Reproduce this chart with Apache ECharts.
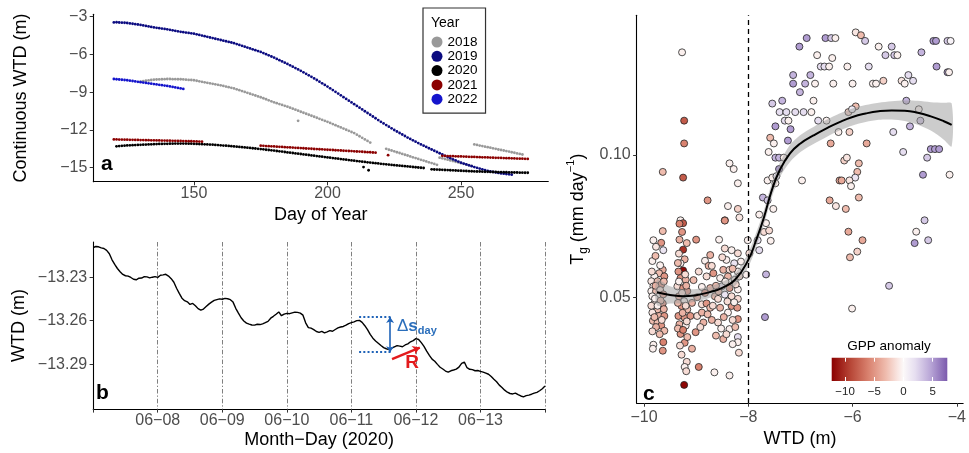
<!DOCTYPE html>
<html>
<head>
<meta charset="utf-8">
<script src="https://cdn.jsdelivr.net/npm/echarts@6/dist/echarts.min.js"></script>
<style>
html, body { margin: 0; padding: 0; background: #fff; }
#main { width: 969px; height: 453px; }
</style>
</head>
<body>
<div id="main"></div>
<script>
// ---- panel a: continuous WTD (m) per day of year, split in segments ----
const yearNames = ['2018', '2019', '2020', '2021', '2022'];
const start2018 = [130, 222, 242, 255];
const wtd2018 = [
  [-8.15,-8.12,-8.09,-8.06,-8.03,-8.00,-7.99,-7.98,-7.97,-7.96,
   -7.95,-7.95,-7.96,-7.96,-7.97,-7.97,-7.98,-8.00,-8.02,-8.03,
   -8.05,-8.09,-8.13,-8.17,-8.21,-8.25,-8.29,-8.33,-8.37,-8.41,
   -8.45,-8.50,-8.55,-8.60,-8.65,-8.70,-8.77,-8.84,-8.91,-8.98,
   -9.05,-9.12,-9.19,-9.26,-9.33,-9.40,-9.48,-9.56,-9.64,-9.72,
   -9.80,-9.87,-9.94,-10.01,-10.08,-10.15,-10.23,-10.31,-10.39,-10.47,
   -10.55,-10.63,-10.71,-10.79,-10.87,-10.95,-11.03,-11.11,-11.19,-11.27,
   -11.35,-11.44,-11.53,-11.62,-11.71,-11.80,-11.89,-11.98,-12.07,-12.16,
   -12.25,-12.37,-12.50,-12.62,-12.75,-12.87,-13.00],
  [-13.50,-13.57,-13.63,-13.70,-13.77,-13.83,-13.90,-13.97,-14.03,-14.10,
   -14.17,-14.23,-14.30,-14.37,-14.43,-14.50,-14.57,-14.63,-14.70,-14.77],
  [-14.20,-14.25,-14.31,-14.36,-14.42,-14.47,-14.53,-14.58,-14.64,-14.69,-14.75,-14.80,-14.85],
  [-13.15,-13.19,-13.24,-13.28,-13.33,-13.37,-13.41,-13.46,-13.50,-13.55,
   -13.59,-13.63,-13.68,-13.72,-13.77,-13.81,-13.86,-13.90,-13.95]
];
const extra2018 = [[189, -11.27]];

const start2019 = [120];
const wtd2019 = [
  [-3.45,-3.44,-3.46,-3.47,-3.48,-3.50,-3.53,-3.56,-3.59,-3.62,
   -3.65,-3.69,-3.73,-3.77,-3.81,-3.85,-3.88,-3.91,-3.94,-3.97,
   -4.00,-4.04,-4.08,-4.12,-4.16,-4.20,-4.23,-4.26,-4.29,-4.32,
   -4.35,-4.40,-4.45,-4.50,-4.55,-4.60,-4.65,-4.70,-4.75,-4.80,
   -4.85,-4.90,-4.95,-5.00,-5.05,-5.10,-5.17,-5.24,-5.31,-5.38,
   -5.45,-5.52,-5.59,-5.66,-5.73,-5.80,-5.89,-5.98,-6.07,-6.16,
   -6.25,-6.35,-6.45,-6.55,-6.65,-6.75,-6.86,-6.97,-7.08,-7.19,
   -7.30,-7.42,-7.54,-7.66,-7.78,-7.90,-8.03,-8.16,-8.29,-8.42,
   -8.55,-8.69,-8.83,-8.97,-9.11,-9.25,-9.39,-9.53,-9.67,-9.81,
   -9.95,-10.09,-10.23,-10.37,-10.51,-10.65,-10.79,-10.93,-11.07,-11.21,
   -11.35,-11.48,-11.61,-11.74,-11.87,-12.00,-12.12,-12.24,-12.36,-12.48,
   -12.60,-12.71,-12.82,-12.93,-13.04,-13.15,-13.25,-13.35,-13.45,-13.55,
   -13.65,-13.75,-13.85,-13.95,-14.05,-14.15,-14.24,-14.33,-14.42,-14.51,
   -14.60,-14.67,-14.74,-14.81,-14.88,-14.95,-15.01,-15.07,-15.13,-15.19,
   -15.25,-15.29,-15.33,-15.37,-15.41,-15.45,-15.47,-15.50,-15.52,-15.55]
];

const start2020 = [121, 239];
const wtd2020 = [
  [-13.30,-13.28,-13.26,-13.25,-13.23,-13.22,-13.21,-13.20,-13.19,-13.18,
   -13.17,-13.16,-13.15,-13.14,-13.13,-13.12,-13.11,-13.11,-13.10,-13.10,
   -13.09,-13.09,-13.08,-13.08,-13.08,-13.08,-13.08,-13.09,-13.09,-13.10,
   -13.11,-13.12,-13.13,-13.14,-13.15,-13.16,-13.17,-13.19,-13.20,-13.22,
   -13.24,-13.25,-13.27,-13.29,-13.31,-13.33,-13.35,-13.37,-13.39,-13.41,
   -13.43,-13.45,-13.47,-13.50,-13.52,-13.54,-13.57,-13.59,-13.62,-13.64,
   -13.67,-13.70,-13.72,-13.75,-13.78,-13.80,-13.83,-13.86,-13.88,-13.91,
   -13.94,-13.96,-13.99,-14.02,-14.04,-14.07,-14.10,-14.12,-14.15,-14.18,
   -14.20,-14.23,-14.26,-14.28,-14.31,-14.34,-14.36,-14.39,-14.42,-14.44,
   -14.47,-14.49,-14.52,-14.54,-14.57,-14.59,-14.62,-14.64,-14.66,-14.69,
   -14.71,-14.73,-14.75,-14.78,-14.80,-14.82,-14.84,-14.86,-14.88,-14.90,
   -14.92,-14.94,-14.96,-14.98,-15.00,-15.02],
  [-15.13,-15.14,-15.15,-15.16,-15.17,-15.18,-15.19,-15.20,-15.21,-15.22,
   -15.23,-15.24,-15.25,-15.26,-15.27,-15.28,-15.29,-15.30,-15.30,-15.31,
   -15.32,-15.32,-15.33,-15.34,-15.34,-15.35,-15.35,-15.36,-15.36,-15.37,
   -15.37,-15.38,-15.38,-15.39,-15.39,-15.40,-15.40]
];
const extra2020 = [[213.5, -14.95], [215.4, -15.2]];

const start2021 = [120, 175, 243];
const wtd2021 = [
  [-12.75,-12.75,-12.76,-12.76,-12.77,-12.77,-12.78,-12.78,-12.79,-12.79,
   -12.80,-12.80,-12.81,-12.81,-12.82,-12.82,-12.83,-12.83,-12.84,-12.84,
   -12.85,-12.85,-12.86,-12.86,-12.87,-12.87,-12.88,-12.88,-12.89,-12.89,
   -12.90,-12.91,-12.92,-12.93],
  [-13.25,-13.26,-13.28,-13.29,-13.30,-13.31,-13.33,-13.34,-13.35,-13.37,
   -13.38,-13.39,-13.40,-13.42,-13.43,-13.44,-13.45,-13.47,-13.48,-13.49,
   -13.51,-13.52,-13.53,-13.54,-13.56,-13.57,-13.58,-13.59,-13.61,-13.62,
   -13.63,-13.65,-13.66,-13.67,-13.68,-13.70,-13.71,-13.72,-13.73,-13.75,
   -13.76,-13.77,-13.79,-13.80],
  [-14.05,-14.06,-14.07,-14.07,-14.08,-14.09,-14.10,-14.10,-14.11,-14.12,
   -14.13,-14.14,-14.14,-14.15,-14.16,-14.17,-14.17,-14.18,-14.19,-14.20,
   -14.21,-14.21,-14.22,-14.23,-14.24,-14.24,-14.25,-14.26,-14.27,-14.28,
   -14.28,-14.29,-14.30]
];
const extra2021 = [[222.7, -14.0]];

const start2022 = [120];
const wtd2022 = [
  [-7.95,-7.97,-7.99,-8.01,-8.03,-8.05,-8.08,-8.11,-8.14,-8.17,
   -8.20,-8.23,-8.26,-8.29,-8.32,-8.35,-8.38,-8.41,-8.44,-8.47,
   -8.50,-8.54,-8.58,-8.62,-8.66,-8.70,-8.74]
];

const aXTicks = [150, 200, 250];
const aYTicks = [-3, -6, -9, -12, -15];

// ---- panel b: hourly WTD (m) from 06-07 00:00 (x in days) ----
const bWTD = [
  -13.2095,-13.2088,-13.2090,-13.2098,-13.2102,-13.2115,-13.2138,-13.2180,-13.2212,-13.2240,
  -13.2262,-13.2281,-13.2290,-13.2293,-13.2302,-13.2314,-13.2318,-13.2307,-13.2306,-13.2296,
  -13.2298,-13.2305,-13.2300,-13.2296,-13.2301,-13.2287,-13.2284,-13.2280,-13.2292,-13.2310,
  -13.2335,-13.2376,-13.2412,-13.2445,-13.2462,-13.2470,-13.2488,-13.2481,-13.2497,-13.2517,
  -13.2528,-13.2520,-13.2503,-13.2486,-13.2472,-13.2460,-13.2455,-13.2450,-13.2452,-13.2446,
  -13.2449,-13.2455,-13.2472,-13.2515,-13.2548,-13.2580,-13.2602,-13.2617,-13.2624,-13.2630,
  -13.2631,-13.2625,-13.2627,-13.2622,-13.2614,-13.2605,-13.2583,-13.2570,-13.2556,-13.2540,
  -13.2566,-13.2555,-13.2550,-13.2552,-13.2546,-13.2541,-13.2543,-13.2548,-13.2562,-13.2615,
  -13.2648,-13.2652,-13.2662,-13.2675,-13.2681,-13.2674,-13.2684,-13.2677,-13.2669,-13.2673,
  -13.2661,-13.2650,-13.2644,-13.2640,-13.2631,-13.2620,-13.2614,-13.2608,-13.2600,-13.2598,
  -13.2612,-13.2635,-13.2662,-13.2695,-13.2721,-13.2740,-13.2756,-13.2772,-13.2786,-13.2794,
  -13.2800,-13.2790,-13.2781,-13.2772,-13.2776,-13.2780,-13.2768,-13.2760,-13.2746,-13.2738,
  -13.2724,-13.2730,-13.2752,-13.2778,-13.2811,-13.2840,-13.2866,-13.2880,-13.2902,-13.2922,
  -13.2934,-13.2948,-13.2956,-13.2946,-13.2941,-13.2935,-13.2921,-13.2895,-13.2886,-13.2925,
  -13.2936,-13.2938,-13.2946,-13.2944,-13.2950,-13.2955,-13.2962,-13.2970,-13.2986,-13.3005,
  -13.3022,-13.3045,-13.3061,-13.3080,-13.3094,-13.3103,-13.3106,-13.3100,-13.3111,-13.3120,
  -13.3126,-13.3118,-13.3114,-13.3108,-13.3100,-13.3095,-13.3084,-13.3070,-13.3052
];
const bDayLabels = ['06\u221208', '06\u221209', '06\u221210', '06\u221211', '06\u221212', '06\u221213'];
const bYTicks = [-13.23, -13.26, -13.29];
// annotation: daily drop (dotted levels + double arrow) and recovery R
const dsX = [4.12, 4.63];
const dsY = [-13.2575, -13.2818];
const dsArrowX = 4.6;
const rArrow = [[4.63, -13.2866], [5.06, -13.2786]];
const dsLabelAt = [5.015, -13.2641];
const rLabelAt = [4.94, -13.2894];

// ---- panel c: Tg vs WTD, coloured by GPP anomaly ----
const cX = [
  -9.27,-9.23,-9.23,-9.64,-9.25,-8.36,-8.28,-8.20,-8.78,-8.39,
  -8.20,-8.17,-8.45,-9.30,-9.25,-6.88,-6.52,-6.41,-6.33,-7.02,
  -5.94,-5.84,-5.76,-5.50,-5.25,-5.37,-5.20,-5.14,-4.68,-4.45,
  -4.40,-4.18,-4.12,-4.39,-4.18,-4.15,-6.68,-6.39,-6.61,-6.54,
  -6.45,-6.10,-5.69,-7.14,-6.81,-7.14,-6.91,-6.72,-6.37,-6.00,
  -5.61,-5.55,-5.41,-5.06,-5.00,-4.84,-4.93,-7.01,-7.35,-6.75,
  -7.40,-7.27,-7.10,-6.94,-6.79,-7.54,-7.30,-7.23,-6.66,-6.50,
  -7.48,-7.19,-6.27,-6.06,-6.08,-5.94,-6.01,-7.58,-7.51,-7.24,
  -6.42,-5.73,-5.22,-4.90,-4.97,-4.73,-4.70,-5.03,-4.57,-4.50,
  -4.42,-4.34,-4.65,-4.14,-7.61,-7.48,-7.41,-7.32,-7.41,-7.63,
  -7.54,-7.46,-7.48,-6.97,-6.16,-6.11,-5.88,-5.91,-5.95,-6.25,
  -6.21,-6.06,-6.03,-6.44,-6.32,-6.13,-5.88,-7.72,-7.63,-7.52,
  -7.79,-7.66,-4.62,-6.08,-5.81,-6.05,-5.91,-4.78,-4.81,-4.55,
  -5.30,-6.01,-7.66,-7.68,-9.82,-9.64,-9.67,-9.77,-9.63,-9.84,
  -9.64,-9.71,-9.80,-9.61,-9.86,-9.74,-9.82,-9.67,-9.86,-9.77,
  -9.71,-9.84,-9.80,-9.64,-9.74,-9.84,-9.71,-9.61,-9.83,-9.74,
  -9.67,-9.61,-9.82,-9.83,-9.63,-9.32,-9.27,-9.32,-9.25,-9.33,
  -9.22,-9.30,-9.25,-9.34,-9.30,-9.20,-9.36,-9.25,-9.17,-9.33,
  -9.23,-9.28,-9.17,-9.34,-9.22,-9.32,-9.20,-9.30,-9.22,-9.28,
  -9.18,-9.22,-9.19,-9.23,-9.08,-9.11,-9.01,-8.98,-9.00,-8.95,
  -9.08,-8.83,-8.73,-8.76,-8.80,-8.67,-8.89,-8.73,-8.83,-8.89,
  -8.80,-8.64,-8.89,-8.73,-8.86,-8.65,-8.56,-8.45,-8.45,-8.32,
  -8.20,-8.42,-8.27,-8.14,-8.48,-8.36,-8.20,-8.54,-8.39,-8.26,
  -8.17,-8.51,-8.36,-8.20,-8.45,-8.32,-8.58,-8.20,-8.54,-8.32,
  -8.21,-8.39,-8.20,-8.58,-8.36,-8.20,-8.20,-8.48,-8.36,-8.01,
  -7.98,-8.04,-7.82,-7.70,-7.60,-7.79,-7.57,
  -9.78,-9.69,-9.85,-9.62,-9.78,-9.69,-9.63,-9.79,-9.68,-9.86,
  -9.74,-9.62,-9.80,-9.66,-9.77,-9.84,-9.70,-9.64,
  -9.18,-9.35,-9.21,-9.33,-9.19,-9.27,-9.35,-9.20,-9.26,-9.18,
  -9.35,-9.25,-9.17,-9.31,
  -9.05,-8.95,-8.98,-8.70,-8.62,-8.68,-8.78,-8.92,-8.70,-8.62,
  -8.50,-8.30,-8.44,-8.24,-8.57,-8.40,-8.27,-8.47,-8.30,-8.52,
  -8.25,-8.42,-8.30,-8.18
];
const cY = [
  0.136,0.112,0.104,0.094,0.092,0.097,0.095,0.090,0.084,0.082,
  0.081,0.078,0.077,0.077,0.076,0.141,0.141,0.141,0.141,0.138,
  0.143,0.142,0.140,0.138,0.138,0.135,0.135,0.135,0.136,0.140,
  0.140,0.140,0.140,0.131,0.129,0.129,0.135,0.134,0.131,0.131,
  0.131,0.131,0.131,0.128,0.128,0.125,0.125,0.125,0.125,0.125,
  0.125,0.125,0.126,0.126,0.125,0.126,0.128,0.122,0.119,0.119,
  0.115,0.115,0.115,0.115,0.115,0.118,0.112,0.112,0.112,0.112,
  0.110,0.109,0.108,0.108,0.115,0.117,0.116,0.106,0.104,0.105,
  0.104,0.104,0.108,0.110,0.119,0.116,0.112,0.101,0.099,0.102,
  0.102,0.102,0.093,0.093,0.101,0.099,0.099,0.099,0.095,0.091,
  0.092,0.0925,0.090,0.091,0.098,0.099,0.097,0.094,0.092,0.091,
  0.091,0.091,0.089,0.084,0.082,0.081,0.085,0.085,0.084,0.081,
  0.079,0.076,0.077,0.073,0.070,0.064,0.066,0.073,0.069,0.070,
  0.054,0.046,0.058,0.043,0.0700,0.0732,0.0691,0.0677,0.0665,0.0627,
  0.0596,0.0584,0.0573,0.0573,0.0556,0.0556,0.0538,0.0544,0.0521,0.0521,
  0.0503,0.0503,0.0478,0.0478,0.0457,0.0446,0.0434,0.0434,0.0417,0.0411,
  0.0400,0.0382,0.0333,0.0319,0.0342,0.0758,0.0729,0.0702,0.0667,0.0653,
  0.0633,0.0619,0.0594,0.0590,0.0567,0.0561,0.0538,0.0532,0.0521,0.0503,
  0.0486,0.0469,0.0457,0.0434,0.0428,0.0405,0.0400,0.0371,0.0340,0.0298,
  0.0273,0.0255,0.0240,0.0192,0.0319,0.0434,0.0377,0.0434,0.0702,0.0255,
  0.0480,0.0628,0.0648,0.0610,0.0573,0.0584,0.0536,0.0532,0.0515,0.0475,
  0.0478,0.0503,0.0446,0.0463,0.0411,0.0236,0.0702,0.0769,0.0671,0.0665,
  0.0654,0.0631,0.0619,0.0625,0.0596,0.0596,0.0590,0.0567,0.0573,0.0561,
  0.0573,0.0538,0.0532,0.0527,0.0509,0.0503,0.0494,0.0494,0.0463,0.0469,
  0.0463,0.0446,0.0423,0.0411,0.0388,0.0360,0.0342,0.0353,0.0225,0.0700,
  0.0654,0.0579,0.0700,0.0729,0.0734,0.0665,0.0698,
  0.0645,0.0612,0.0590,0.0555,0.0540,0.0525,0.0510,0.0495,0.0488,0.0470,
  0.0470,0.0458,0.0430,0.0420,0.0395,0.0380,0.0370,0.0312,
  0.0690,0.0620,0.0580,0.0555,0.0540,0.0515,0.0480,0.0470,0.0445,0.0415,
  0.0390,0.0385,0.0360,0.0330,
  0.0560,0.0590,0.0500,0.0610,0.0540,0.0470,0.0440,0.0395,0.0420,0.0365,
  0.0640,0.0600,0.0555,0.0545,0.0520,0.0485,0.0482,0.0430,0.0420,0.0390,
  0.0395,0.0370,0.0335,0.0305
];
const cGPP = [
  -0.5,-8,-6,-3,-8,-0.5,-0.5,-0.5,-5,-0.5,
  -2,-1,-5,-0.5,-8,5,5,3,-0.5,5,
  -1,-3,3,-0.5,3,3,3,-0.5,4,5,
  5,3,0.5,5,5,-0.5,-0.5,-0.5,2,2,
  -0.5,-0.5,2,4,4,5,4,-0.5,-0.5,-0.5,
  -0.5,-0.5,-2,-1,-0.5,2,2,4,4,-0.5,
  2,2,2,2,-0.5,3,2,-0.5,2,-0.5,
  5,5,-0.5,-2,-2,-3,1,-3,-0.5,5,
  -4,-4,2,4,4,-0.5,3,2,3,5,
  5,5,5,-0.5,-0.5,4,4,-0.5,5,-0.5,
  -0.5,1.5,-0.5,-0.5,-2,-1,-3,-3,1.5,-4,
  -4,-1,-0.5,-4,-1,-3,-3,4,3,-0.5,
  -0.5,-0.5,3,-4,-4,-3,-2,-0.5,5,3,
  3,-0.5,4,5,-0.5,-3,-5,-1,1.5,-0.5,
  -4,-3,-0.5,-5,-1,-3,-0.5,-5,-0.5,-3,
  -0.5,-0.5,-1,-5,-3,-1,-3.5,-5,-3,-3,
  -5,-3,-0.5,-0.5,-6,-6,-5,-3.5,-10,-1.5,
  -3.5,-0.5,-12,-5,-5,-3.5,-1.5,-5,-5,-3.5,
  -0.5,-5,-3,-5,-5,-3.5,-0.5,-5,-5,-1.5,
  -1.5,-0.5,-1.5,-12,-3.5,-5,-5,-1.5,-5,-6,
  -3.5,-0.5,-3.5,-3.5,-1.5,-5,-0.5,-3,-5,-1.5,
  -5,-3,-3.5,-3,-3.5,-0.5,-0.5,-5,-1.5,-0.5,
  -1.5,-0.5,1.5,-0.5,-3.5,-1.5,-0.5,-0.5,-3.5,-0.5,
  -1.5,1.5,-5,-0.5,1.5,-1.5,-1.5,-1.5,-3.5,-5,
  -5,-0.5,-5,-1.5,-0.5,2,-0.5,-3.5,-0.5,-0.5,
  -1.5,-0.5,1.5,-1.5,-1.5,2,-0.5,
  -3,-0.5,-1.5,-3,-3.5,-1.5,-4,-0.5,-3,-1.5,
  -0.5,-3.5,-3,-1.5,-3.5,-1.5,-3,-5,
  -3,-3,-1.5,-0.5,-3.5,-1.5,-3,-1.5,-3.5,-1.5,
  -3,-6,-3,-1.5,
  -3,-1.5,-3.5,-1.5,-3,-1.5,-3,-1.5,-3.5,-3,
  -1.5,-3,-0.5,-1.5,-3,-1.5,-0.5,-3.5,-1.5,-0.5,
  -3,-1.5,-0.5,-1.5
];
// smooth fit and its confidence band
const smX  = [-9.75,-9.5,-9.25,-9.0,-8.75,-8.5,-8.25,-8.0,-7.85,-7.7,-7.55,-7.4,-7.2,-7.0,-6.75,-6.5,-6.25,-6.0,-5.75,-5.5,-5.25,-5.0,-4.75,-4.5,-4.25,-4.1];
const smY  = [0.0517,0.0508,0.0503,0.0507,0.0517,0.0533,0.0562,0.0631,0.0700,0.0780,0.0875,0.0945,0.1005,0.1040,0.1068,0.1093,0.1115,0.1133,0.1145,0.1153,0.1156,0.1155,0.1148,0.1135,0.1118,0.1105];
const smLo = [0.0472,0.0478,0.0478,0.0485,0.0497,0.0513,0.0540,0.0606,0.0675,0.0755,0.0850,0.0920,0.0975,0.1010,0.1038,0.1063,0.1085,0.1103,0.1115,0.1123,0.1124,0.1119,0.1106,0.1085,0.1053,0.1030];
const smHi = [0.0562,0.0538,0.0528,0.0529,0.0537,0.0553,0.0584,0.0656,0.0725,0.0805,0.0900,0.0970,0.1035,0.1070,0.1098,0.1123,0.1145,0.1163,0.1175,0.1183,0.1188,0.1191,0.1190,0.1185,0.1183,0.1180];
const cXTicks = [-10, -8, -6, -4];
const cYTicks = [0.05, 0.10];
const wtdThreshold = -8;
const gppTicks = [-10, -5, 0, 5];

// colour scale for GPP anomaly
const gppMin = -12.3, gppMax = 7.5;
const gppStops  = [-12.3, -9, -6, -3, -1, 0, 2, 4.5, 7.5];
const gppColors = ['#8b0000', '#b84838', '#d9826f', '#efbcae', '#f9e6e2', '#fcf9f9', '#e6def0', '#bba9d8', '#7b5aad'];

const FONT = 'Liberation Sans, Arial, Helvetica, sans-serif';
const yearColors = ['#999999', '#0b0b80', '#000000', '#8b0000', '#1414cc'];

function hexRgb(h) {
  return [parseInt(h.slice(1, 3), 16), parseInt(h.slice(3, 5), 16), parseInt(h.slice(5, 7), 16)];
}
function gppColor(v) {
  if (v <= gppStops[0]) return gppColors[0];
  for (let i = 1; i < gppStops.length; i++) {
    if (v <= gppStops[i]) {
      const t = (v - gppStops[i - 1]) / (gppStops[i] - gppStops[i - 1]);
      const a = hexRgb(gppColors[i - 1]), b = hexRgb(gppColors[i]);
      return 'rgb(' + a.map((c, k) => Math.round(c + (b[k] - c) * t)).join(',') + ')';
    }
  }
  return gppColors[gppColors.length - 1];
}
function minus(s) { return String(s).replace('-', '\u2212'); }

function segPoints(starts, segs, extra) {
  let out = [];
  segs.forEach((vals, s) => {
    vals.forEach((v, i) => out.push([starts[s] + i, v]));
  });
  return out.concat(extra || []);
}

function axis(o) {
  return {
    type: 'value', gridIndex: o.grid, min: o.min, max: o.max, interval: o.interval,
    position: o.position, show: o.show !== false, z: o.z,
    name: o.name, nameLocation: 'middle', nameGap: o.nameGap, nameRotate: o.rotate,
    nameTextStyle: Object.assign({ color: '#000', fontSize: 18, fontFamily: FONT }, o.nameStyle || {}),
    axisLine: { show: o.line !== false, onZero: false, lineStyle: { color: '#000', width: 1.1 } },
    axisTick: Object.assign({ show: true, length: 3.6, customValues: o.ticks, lineStyle: { color: '#333', width: 1 } }, o.tick || {}),
    axisLabel: Object.assign({ show: true, customValues: o.ticks, margin: o.margin, formatter: o.fmt,
      color: '#4d4d4d', fontSize: 16, fontFamily: FONT }, o.label || {}),
    splitLine: o.split || { show: false }
  };
}

const chart = echarts.init(document.getElementById('main'));

const yearSegs = [
  segPoints(start2018, wtd2018, extra2018),
  segPoints(start2019, wtd2019),
  segPoints(start2020, wtd2020, extra2020),
  segPoints(start2021, wtd2021, extra2021),
  segPoints(start2022, wtd2022)
];

const option = {
  animation: false,
  backgroundColor: '#fff',
  textStyle: { fontFamily: FONT },
  title: [
    { text: 'a', left: 101, top: 154, padding: 0, textStyle: { fontSize: 21, fontWeight: 'bold', color: '#000', fontFamily: FONT } },
    { text: 'b', left: 96, top: 383, padding: 0, textStyle: { fontSize: 21, fontWeight: 'bold', color: '#000', fontFamily: FONT } },
    { text: 'c', left: 643, top: 384, padding: 0, textStyle: { fontSize: 21, fontWeight: 'bold', color: '#000', fontFamily: FONT } },
    { text: 'Year', left: 431, top: 16, padding: 0, textStyle: { fontSize: 14, fontWeight: 'normal', color: '#000', fontFamily: FONT } },
    { text: 'GPP anomaly', left: 889, top: 339, textAlign: 'center', padding: 0, textStyle: { fontSize: 13.5, fontWeight: 'normal', color: '#000', fontFamily: FONT } }
  ],
  legend: {
    data: yearNames, orient: 'vertical', left: 423, top: 8,
    padding: [27, 8, 7, 8.5], itemWidth: 11, itemHeight: 11, itemGap: 0.3, icon: 'circle',
    borderColor: '#333', borderWidth: 1.2, backgroundColor: '#fff', selectedMode: false,
    textStyle: { fontSize: 13.5, lineHeight: 12, color: '#000', fontFamily: FONT }
  },
  grid: [
    { left: 93.3, top: 14.2, width: 455, height: 167.5 },
    { left: 93.2, top: 242, width: 451.8, height: 167 },
    { left: 636.7, top: 15.3, width: 332.3, height: 393 },
    { left: 831.7, top: 357.7, width: 115.6, height: 23.3, show: true, borderWidth: 0,
      backgroundColor: { type: 'linear', x: 0, y: 0, x2: 1, y2: 0,
        colorStops: gppStops.map((v, i) => ({ offset: (v - gppMin) / (gppMax - gppMin), color: gppColors[i] })) } }
  ],
  xAxis: [
    axis({ grid: 0, min: 112.3, max: 282.7, ticks: aXTicks, margin: 4, name: 'Day of Year', nameGap: 24,
      fmt: v => String(v) }),
    axis({ grid: 1, min: 0, max: 7, interval: 1, margin: 4, name: 'Month\u2212Day (2020)', nameGap: 22,
      fmt: v => (v >= 1 && v <= 6) ? bDayLabels[v - 1] : '',
      split: { show: true, lineStyle: { color: '#7f7f7f', width: 1, type: [4.5, 2, 1.3, 2] } } }),
    axis({ grid: 2, min: -10.14, max: -3.88, ticks: cXTicks, margin: 6, name: 'WTD (m)', nameGap: 23,
      fmt: v => minus(v) }),
    axis({ grid: 3, min: gppMin, max: gppMax, ticks: gppTicks, margin: 5, line: false, z: 20,
      fmt: v => minus(v), label: { color: '#222', fontSize: 11.5 },
      tick: { inside: true, length: 4, lineStyle: { color: '#fff', width: 1 } } }),
    axis({ grid: 3, min: gppMin, max: gppMax, ticks: gppTicks, position: 'top', line: false, z: 20,
      label: { show: false },
      tick: { inside: true, length: 4, lineStyle: { color: '#fff', width: 1 } } })
  ],
  yAxis: [
    axis({ grid: 0, min: -16.11, max: -2.8, ticks: aYTicks, margin: 6, name: 'Continuous WTD (m)', nameGap: 63, rotate: 90,
      fmt: v => minus(v) }),
    axis({ grid: 1, min: -13.321, max: -13.2057, ticks: bYTicks, margin: 6, name: 'WTD (m)', nameGap: 65, rotate: 90,
      fmt: v => minus(v.toFixed(2)) }),
    axis({ grid: 2, min: 0.0128, max: 0.149, ticks: cYTicks, margin: 6, nameGap: 47, rotate: 90,
      name: '{t|T}{s|g}{t| (mm day}{p|\u22121}{t|)}',
      nameStyle: { rich: {
        t: { fontSize: 18, lineHeight: 24, color: '#000', fontFamily: FONT },
        s: { fontSize: 12, lineHeight: 11, verticalAlign: 'bottom', color: '#000', fontFamily: FONT },
        p: { fontSize: 11, lineHeight: 11, verticalAlign: 'top', color: '#000', fontFamily: FONT }
      } },
      fmt: v => v.toFixed(2) }),
    axis({ grid: 3, min: 0, max: 1, show: false })
  ],
  series: [
    ...yearNames.map((name, k) => ({
      name: name, type: 'scatter', xAxisIndex: 0, yAxisIndex: 0,
      symbol: 'circle', symbolSize: 2.8, itemStyle: { color: yearColors[k], opacity: 1 },
      data: yearSegs[k], silent: true
    })),
    {
      name: 'WTD 2020', type: 'line', xAxisIndex: 1, yAxisIndex: 1,
      showSymbol: false, symbol: 'none', lineStyle: { color: '#000', width: 1.4 },
      data: bWTD.map((v, i) => [i / 24, v]),
      markLine: {
        silent: true, symbol: ['none', 'none'], label: { show: false },
        data: [
          [{ coord: [dsX[0], dsY[0]], lineStyle: { color: '#1f63b8', width: 2, type: [2, 2.2] } }, { coord: [dsX[1], dsY[0]] }],
          [{ coord: [dsX[0], dsY[1]], lineStyle: { color: '#1f63b8', width: 2, type: [2, 2.2] } }, { coord: [dsX[1], dsY[1]] }],
          [{ coord: [dsArrowX, dsY[1]], symbol: 'arrow', symbolSize: 6, lineStyle: { color: '#1f63b8', width: 1.6, type: 'solid' } },
           { coord: [dsArrowX, dsY[0]], symbol: 'arrow', symbolSize: 6 }],
          [{ coord: rArrow[0], symbol: 'none', lineStyle: { color: '#e31a1c', width: 2.4, type: 'solid' } },
           { coord: rArrow[1], symbol: 'arrow', symbolSize: 7 }]
        ]
      },
      markPoint: {
        silent: true, symbol: 'circle', symbolSize: 1, itemStyle: { color: 'rgba(0,0,0,0)' },
        data: [
          { coord: dsLabelAt, label: { show: true, position: 'inside', formatter: '{a|\u0394}{b|s}{c|day}',
            rich: {
              a: { fontSize: 17, lineHeight: 20, color: '#2a6ebb', fontFamily: FONT },
              b: { fontSize: 17, lineHeight: 20, fontWeight: 'bold', color: '#2a6ebb', fontFamily: FONT },
              c: { fontSize: 11, lineHeight: 10, fontWeight: 'bold', verticalAlign: 'bottom', color: '#2a6ebb', fontFamily: FONT }
            } } },
          { coord: rLabelAt, label: { show: true, position: 'inside', formatter: 'R',
            fontSize: 19, fontWeight: 'bold', color: '#e31a1c', fontFamily: FONT } }
        ]
      }
    },
    {
      name: 'Tg', type: 'scatter', xAxisIndex: 2, yAxisIndex: 2, silent: true,
      symbol: 'circle', symbolSize: 7,
      itemStyle: { color: p => gppColor(p.value[2]), borderColor: '#222', borderWidth: 0.8, opacity: 1 },
      data: cX.map((x, i) => [x, cY[i], cGPP[i]]),
      markLine: {
        silent: true, symbol: ['none', 'none'], label: { show: false },
        lineStyle: { color: '#000', width: 1.3, type: [5, 4] },
        data: [{ xAxis: wtdThreshold }]
      }
    },
    {
      name: 'band', type: 'custom', xAxisIndex: 2, yAxisIndex: 2, silent: true, z: 3,
      data: [[smX[0], smY[0]]],
      renderItem: (params, api) => {
        const pts = [];
        smX.forEach((x, i) => pts.push(api.coord([x, smHi[i]])));
        for (let i = smX.length - 1; i >= 0; i--) pts.push(api.coord([smX[i], smLo[i]]));
        return { type: 'polygon', shape: { points: pts, smooth: 0.3 }, style: { fill: '#999', opacity: 0.5 } };
      }
    },
    {
      name: 'fit', type: 'line', xAxisIndex: 2, yAxisIndex: 2, silent: true, z: 4,
      smooth: true, showSymbol: false, symbol: 'none',
      lineStyle: { color: '#000', width: 2 },
      data: smX.map((x, i) => [x, smY[i]])
    }
  ]
};

chart.setOption(option);
</script>
</body>
</html>
